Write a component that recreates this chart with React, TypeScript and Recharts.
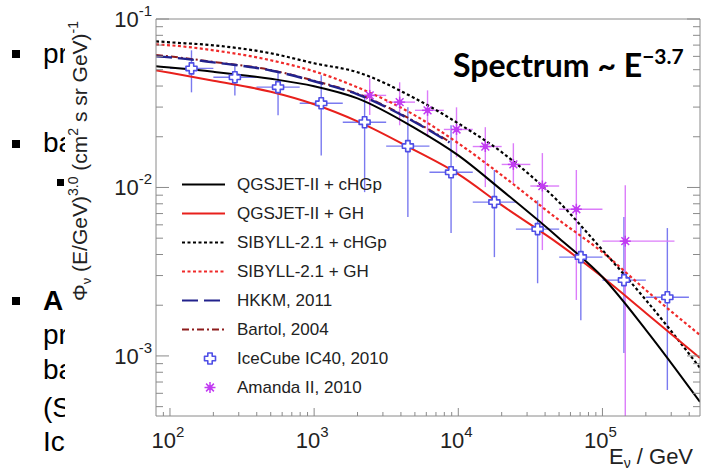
import React from 'react';
import { ComposedChart, Line, Scatter, XAxis, YAxis, ErrorBar } from 'recharts';

// model curves, E in GeV, flux * E^3
const modelE = [80, 100, 200, 500, 1000, 2000, 5000, 10000, 20000, 50000, 100000, 200000, 475000];
const qgsjetCHGp = [0.0524, 0.0515, 0.0486, 0.0442, 0.0399, 0.0338, 0.0225, 0.0155, 0.00964, 0.0050, 0.00294, 0.00143, 0.000533];
const qgsjetGH = [0.0495, 0.0479, 0.0430, 0.0370, 0.0312, 0.0247, 0.0166, 0.0120, 0.00785, 0.00461, 0.00294, 0.00180, 0.000973];
const sibyllCHGp = [0.0737, 0.0727, 0.0698, 0.0626, 0.0546, 0.0483, 0.0338, 0.0240, 0.0162, 0.00818, 0.00425, 0.00215, 0.00085];
const sibyllGH = [0.0706, 0.0698, 0.0652, 0.0569, 0.0489, 0.0393, 0.0268, 0.0183, 0.01183, 0.0064, 0.00413, 0.00246, 0.00133];

const convE = [80, 100, 200, 500, 1000, 2000, 5000, 8700];
const hkkm = [0.0600, 0.0592, 0.0553, 0.0495, 0.0427, 0.0357, 0.0244, 0.0185];
const bartol = [0.0612, 0.0600, 0.0556, 0.0498, 0.0430, 0.0360, 0.0246, 0.0187];

// IceCube IC40 unfolded points
const iceE = [141, 282, 562, 1120, 2240, 4470, 8910, 17800, 35500, 70800, 141000, 282000];
const iceEdges = [100, 200, 398, 794, 1580, 3160, 6310, 12600, 25100, 50100, 100000, 200000, 398000];
const iceFlux = [0.0509, 0.0451, 0.0394, 0.0316, 0.0244, 0.0176, 0.0123, 0.00819, 0.00566, 0.00386, 0.00282, 0.00223];
const iceLo = [0.0367, 0.0352, 0.0268, 0.0155, 0.00938, 0.00667, 0.00536, 0.00386, 0.0027, 0.00163, 0.00104, 0.000628];
const iceHi = [0.0652, 0.0538, 0.0482, 0.0463, 0.0343, 0.0299, 0.0234, 0.0127, 0.0084, 0.00581, 0.00667, 0.00574];

// Amanda II points
const amaE = [2430, 3920, 6120, 9720, 15400, 24100, 38300, 65900, 144000];
const amaEdges = [2000, 3160, 5010, 7940, 12600, 20000, 31600, 50100, 100000, 316000];
const amaFlux = [0.0352, 0.0321, 0.0287, 0.0221, 0.0175, 0.0137, 0.0102, 0.00743, 0.0048];
const amaLo = [0.0269, 0.0234, 0.0199, 0.0151, 0.01005, 0.0106, 0.00425, 0.00215, 0.00044];
const amaHi = [0.0444, 0.0421, 0.0377, 0.0299, 0.0228, 0.0183, 0.0160, 0.0127, 0.0103];

const xTicks = [90, 100, 200, 300, 400, 500, 600, 700, 800, 900, 1e3, 2e3, 3e3, 4e3, 5e3, 6e3, 7e3, 8e3, 9e3,
  1e4, 2e4, 3e4, 4e4, 5e4, 6e4, 7e4, 8e4, 9e4, 1e5, 2e5, 3e5, 4e5];
const yTicks = [5e-4, 6e-4, 7e-4, 8e-4, 9e-4, 1e-3, 2e-3, 3e-3, 4e-3, 5e-3, 6e-3, 7e-3, 8e-3, 9e-3,
  1e-2, 2e-2, 3e-2, 4e-2, 5e-2, 6e-2, 7e-2, 8e-2, 9e-2, 1e-1];

const xDomain = [80, 475000];
const yDomain = [0.00044, 0.1];

const curve = (es: number[], vs: number[]) => es.map((e, i) => ({ x: e, y: vs[i] }));

const iceData = iceE.map((e, i) => ({
  x: e, y: iceFlux[i],
  ex: [e - iceEdges[i], iceEdges[i + 1] - e],
  ey: [iceFlux[i] - iceLo[i], iceHi[i] - iceFlux[i]],
}));
const amaData = amaE.map((e, i) => ({
  x: e, y: amaFlux[i],
  ex: [e - amaEdges[i], amaEdges[i + 1] - e],
  ey: [amaFlux[i] - amaLo[i], amaHi[i] - amaFlux[i]],
}));

const FONT = 'Liberation Sans, Arial, sans-serif';
const AXIS = '#8a8a8a';
const ICE = '#4f4fe6';
const ICE_BAR = '#7a7af0';
const AMA = '#c23cf2';
const AMA_BAR = '#dc7cfa';

const isMajor = (v: number) => Math.abs(Math.log10(v) - Math.round(Math.log10(v))) < 1e-6;

const LeftTick = ({ x, y, payload }: any) => {
  const major = isMajor(payload.value);
  const exp = Math.round(Math.log10(payload.value));
  return (
    <g>
      <line x1={x} x2={x + (major ? 13 : 7)} y1={y} y2={y} stroke={AXIS} strokeWidth={1} />
      {major && (
        <text x={x - 4} y={y + 8} textAnchor="end" fontFamily={FONT} fontSize={22} fill="#222">
          10<tspan dy={-11} fontSize={15}>{exp}</tspan>
        </text>
      )}
    </g>
  );
};

const RightTick = ({ x, y, payload }: any) => {
  const major = isMajor(payload.value);
  return <line x1={x} x2={x - (major ? 13 : 7)} y1={y} y2={y} stroke={AXIS} strokeWidth={1} />;
};

const BottomTick = ({ x, y, payload }: any) => {
  const major = isMajor(payload.value);
  const exp = Math.round(Math.log10(payload.value));
  return (
    <g>
      <line x1={x} x2={x} y1={y} y2={y - (major ? 8 : 4)} stroke={AXIS} strokeWidth={1} />
      {major && (
        <text x={x - 2} y={y + 32} textAnchor="middle" fontFamily={FONT} fontSize={22} fill="#222">
          10<tspan dy={-11} fontSize={15}>{exp}</tspan>
        </text>
      )}
    </g>
  );
};

const TopTick = ({ x, y, payload }: any) => {
  const major = isMajor(payload.value);
  return <line x1={x} x2={x} y1={y} y2={y + (major ? 8 : 4)} stroke={AXIS} strokeWidth={1} />;
};

const IceMarker = ({ cx, cy }: any) => {
  if (cx == null || cy == null) return null;
  const a = 2.2, b = 5.5;
  const d = `M${cx - a},${cy - b} L${cx + a},${cy - b} L${cx + a},${cy - a} L${cx + b},${cy - a} L${cx + b},${cy + a} L${cx + a},${cy + a} L${cx + a},${cy + b} L${cx - a},${cy + b} L${cx - a},${cy + a} L${cx - b},${cy + a} L${cx - b},${cy - a} L${cx - a},${cy - a} Z`;
  return <path d={d} fill="#fff" stroke={ICE} strokeWidth={1.6} strokeLinejoin="round" />;
};

const AmaMarker = ({ cx, cy }: any) => {
  if (cx == null || cy == null) return null;
  const r = 5.5, q = 3.9;
  return (
    <g stroke={AMA} strokeWidth={1.5}>
      <line x1={cx - r} x2={cx + r} y1={cy} y2={cy} />
      <line x1={cx} x2={cx} y1={cy - r} y2={cy + r} />
      <line x1={cx - q} x2={cx + q} y1={cy - q} y2={cy + q} />
      <line x1={cx - q} x2={cx + q} y1={cy + q} y2={cy - q} />
      <circle cx={cx} cy={cy} r={1.8} fill={AMA} />
    </g>
  );
};

const YTitle = () => (
  <text transform="translate(87,301) rotate(-90)" fontFamily={FONT} fontSize={21} fill="#222">
    Φ<tspan dy={4} fontSize={13}>ν</tspan>
    <tspan dy={-4}> (E/GeV)</tspan>
    <tspan dy={-9} fontSize={14}>3.0</tspan>
    <tspan dy={9}> (cm</tspan>
    <tspan dy={-9} fontSize={14}>2</tspan>
    <tspan dy={9}> s sr GeV)</tspan>
    <tspan dy={-9} fontSize={14}>-1</tspan>
  </text>
);

const XTitle = () => (
  <text x={609} y={464} fontFamily={FONT} fontSize={22} fill="#222">
    E<tspan dy={4} fontSize={14}>ν</tspan><tspan dy={-4}> / GeV</tspan>
  </text>
);

const legendRows = [
  { name: 'QGSJET-II + cHGp', color: '#000', dash: undefined, kind: 'line' },
  { name: 'QGSJET-II + GH', color: '#e8201c', dash: undefined, kind: 'line' },
  { name: 'SIBYLL-2.1 + cHGp', color: '#000', dash: '3 2.5', kind: 'line' },
  { name: 'SIBYLL-2.1 + GH', color: '#f02a2a', dash: '3 2.5', kind: 'line' },
  { name: 'HKKM, 2011', color: '#22228c', dash: '16 6', kind: 'line' },
  { name: 'Bartol, 2004', color: '#8e1c1c', dash: '7 3 2 3', kind: 'line' },
  { name: 'IceCube IC40, 2010', color: ICE, dash: undefined, kind: 'ice' },
  { name: 'Amanda II, 2010', color: AMA, dash: undefined, kind: 'ama' },
];

const slideLines = [
  { text: 'pr', x: 43, y: 64, bold: false },
  { text: 'ba', x: 43, y: 153, bold: false },
  { text: 'A', x: 43, y: 311, bold: true },
  { text: 'pr', x: 43, y: 345, bold: false },
  { text: 'ba', x: 43, y: 380, bold: false },
  { text: '(S', x: 43, y: 418, bold: false },
  { text: 'Ic', x: 43, y: 452, bold: false },
];

export default function App() {
  return (
    <div style={{ position: 'absolute', left: 0, top: 0, width: 701, height: 473, background: '#fff', overflow: 'hidden' }}>
      {slideLines.map((l, i) => (
        <div key={i} style={{ position: 'absolute', left: l.x, top: l.y - 26, fontFamily: FONT, fontSize: 28, lineHeight: '32px', fontWeight: l.bold ? 700 : 400, color: '#000' }}>
          {l.text}
        </div>
      ))}
      {[50, 140, 297].map((y, i) => (
        <div key={'b' + i} style={{ position: 'absolute', left: 12, top: y, width: 8, height: 8, background: '#000' }} />
      ))}
      <div style={{ position: 'absolute', left: 57, top: 179, width: 7, height: 7, background: '#000' }} />
      <div style={{ position: 'absolute', left: 65, top: 0, width: 636, height: 473, background: '#fff' }} />

      <div style={{ position: 'absolute', left: 0, top: 0 }}>
        <ComposedChart width={701} height={473} margin={{ top: 18, right: 0, bottom: 0, left: 0 }}>
          <XAxis xAxisId="b" dataKey="x" type="number" scale="log" domain={xDomain} allowDataOverflow
            ticks={xTicks} interval={0} tick={<BottomTick />} tickLine={false} tickSize={0} tickMargin={0}
            height={57} axisLine={{ stroke: AXIS }} label={<XTitle />} />
          <XAxis xAxisId="t" orientation="top" type="number" scale="log" domain={xDomain} allowDataOverflow
            ticks={xTicks} interval={0} tick={<TopTick />} tickLine={false} tickSize={0} tickMargin={0}
            height={1} axisLine={{ stroke: AXIS }} />
          <YAxis yAxisId="l" dataKey="y" type="number" scale="log" domain={yDomain} allowDataOverflow
            ticks={yTicks} interval={0} tick={<LeftTick />} tickLine={false} tickSize={0} tickMargin={0}
            width={156} axisLine={{ stroke: AXIS }} label={<YTitle />} />
          <YAxis yAxisId="r" orientation="right" type="number" scale="log" domain={yDomain} allowDataOverflow
            ticks={yTicks} interval={0} tick={<RightTick />} tickLine={false} tickSize={0} tickMargin={0}
            width={1} axisLine={{ stroke: AXIS }} />

          <Scatter xAxisId="b" yAxisId="l" data={iceData} dataKey="y" isAnimationActive={false} shape={<IceMarker />}>
            <ErrorBar dataKey="ey" direction="y" width={0} stroke={ICE_BAR} strokeWidth={1.4} />
            <ErrorBar dataKey="ex" direction="x" width={0} stroke={ICE_BAR} strokeWidth={1.4} />
          </Scatter>
          <Scatter xAxisId="b" yAxisId="l" data={amaData} dataKey="y" isAnimationActive={false} shape={<AmaMarker />}>
            <ErrorBar dataKey="ey" direction="y" width={0} stroke={AMA_BAR} strokeWidth={1.4} />
            <ErrorBar dataKey="ex" direction="x" width={0} stroke={AMA_BAR} strokeWidth={1.4} />
          </Scatter>

          <Line xAxisId="b" yAxisId="l" data={curve(convE, bartol)} dataKey="y" type="monotone" stroke="#8e1c1c" strokeWidth={2} strokeDasharray="7 3 2 3" dot={false} isAnimationActive={false} />
          <Line xAxisId="b" yAxisId="l" data={curve(convE, hkkm)} dataKey="y" type="monotone" stroke="#22228c" strokeWidth={2.4} strokeDasharray="16 6" dot={false} isAnimationActive={false} />
          <Line xAxisId="b" yAxisId="l" data={curve(modelE, sibyllGH)} dataKey="y" type="monotone" stroke="#f02a2a" strokeWidth={2.2} strokeDasharray="3 2.5" dot={false} isAnimationActive={false} />
          <Line xAxisId="b" yAxisId="l" data={curve(modelE, sibyllCHGp)} dataKey="y" type="monotone" stroke="#000" strokeWidth={2.2} strokeDasharray="3 2.5" dot={false} isAnimationActive={false} />
          <Line xAxisId="b" yAxisId="l" data={curve(modelE, qgsjetGH)} dataKey="y" type="monotone" stroke="#e8201c" strokeWidth={2} dot={false} isAnimationActive={false} />
          <Line xAxisId="b" yAxisId="l" data={curve(modelE, qgsjetCHGp)} dataKey="y" type="monotone" stroke="#000" strokeWidth={2} dot={false} isAnimationActive={false} />
        </ComposedChart>
      </div>

      <div style={{ position: 'absolute', left: 176, top: 170 }}>
        {legendRows.map((r, i) => (
          <div key={i} style={{ display: 'flex', alignItems: 'center', height: 29, fontFamily: FONT, fontSize: 17, color: '#222' }}>
            <svg width={61} height={29}>
              {r.kind === 'line' && <line x1={6} x2={49} y1={14.5} y2={14.5} stroke={r.color} strokeWidth={2.2} strokeDasharray={r.dash} />}
              {r.kind === 'ice' && <IceMarker cx={34} cy={14.5} />}
              {r.kind === 'ama' && <AmaMarker cx={34} cy={14.5} />}
            </svg>
            <span>{r.name}</span>
          </div>
        ))}
      </div>

      <div style={{ position: 'absolute', left: 453, top: 49, fontFamily: 'Lato, sans-serif', fontWeight: 700, fontSize: 32, lineHeight: '32px', color: '#000', whiteSpace: 'nowrap' }}>
        Spectrum ~ E<sup style={{ fontSize: 21, verticalAlign: 'baseline', position: 'relative', top: -13 }}>−3.7</sup>
      </div>
    </div>
  );
}
